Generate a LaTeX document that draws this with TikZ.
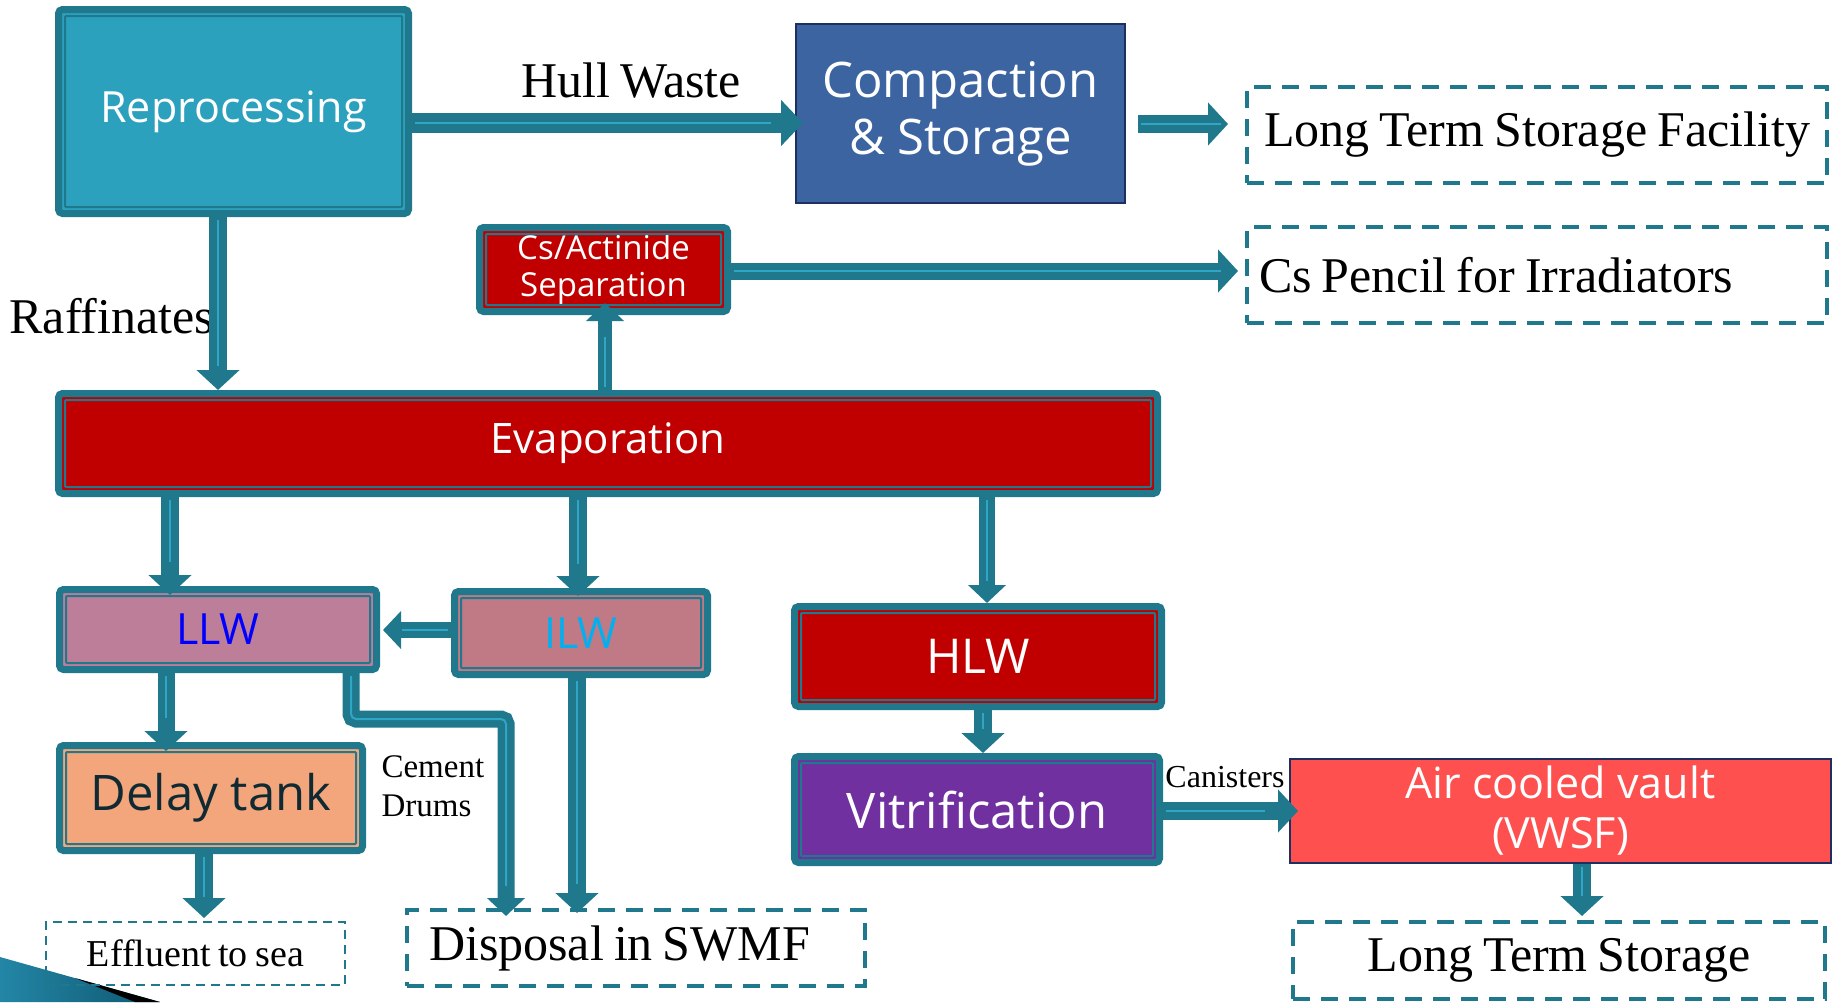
\documentclass[tikz,border=0pt]{standalone}
\usepackage{fontspec}
\setmainfont{Liberation Serif}[WordSpace=0.8]
\newfontfamily\boxfont{Open Sans}
\usetikzlibrary{arrows.meta}

\definecolor{tealdark}{HTML}{1F788C}
\definecolor{teallight}{HTML}{2FA6C6}
\definecolor{repfill}{HTML}{2CA1BE}
\definecolor{compfill}{HTML}{3B64A0}
\definecolor{navyline}{HTML}{1F2F60}
\definecolor{wastered}{HTML}{C00000}
\definecolor{llwfill}{HTML}{BD7E9A}
\definecolor{ilwfill}{HTML}{BF7A86}
\definecolor{delayfill}{HTML}{F3A57B}
\definecolor{vitfill}{HTML}{7030A0}
\definecolor{vaultfill}{HTML}{FF5050}
\definecolor{llwtext}{HTML}{0000FF}
\definecolor{ilwtext}{HTML}{00B0F0}
\definecolor{delaytext}{HTML}{0F2A33}
\definecolor{wedgelight}{HTML}{2386A6}
\definecolor{wedgedark}{HTML}{0E5670}

\newcommand{\fs}[2]{\fontsize{#1}{#2}\selectfont}

\begin{document}
\begin{tikzpicture}[x=1pt,y=-1pt,
  tbox/.style={draw=tealdark, line width=7pt, rounded corners=4pt, inner sep=0pt,
               text=white, align=center},
  pbox/.style={draw=navyline, line width=2pt, inner sep=0pt, text=white, align=center},
  dbox/.style={draw=tealdark, line width=4pt, dash pattern=on 17pt off 11pt,
               inner sep=0pt, text=black, align=center},
  innerline/.style={draw=tealdark, line width=2pt, rounded corners=1pt},
  flow/.style={draw=tealdark, line width=18pt, -{Triangle[width=42pt,length=20pt]},
               postaction={draw=teallight, line width=2pt, -, shorten <=3pt, shorten >=24pt}},
  slimflow/.style={draw=tealdark, line width=15pt, -{Triangle[width=37pt,length=18pt]},
               postaction={draw=teallight, line width=2pt, -, shorten <=3pt, shorten >=22pt}}
]
\useasboundingbox (0,0) rectangle (1841,1002);

% corner wedge of the slide
\shade[left color=wedgelight, right color=wedgedark] (0,957) -- (160,1002) -- (0,1002) -- cycle;
\fill[black] (75,978) -- (160,1002) -- (135,1002) -- cycle;

% process boxes
\node[tbox, fill=repfill, minimum width=350pt, minimum height=204pt,
      font=\boxfont\fs{43}{50}] (rep) at (233.5,111.5) {Reprocessing};
\node[pbox, fill=compfill, minimum width=329pt, minimum height=179pt,
      font=\boxfont\fs{49}{57}] (comp) at (960.5,113.5) {Compaction\\\& Storage};
\node[tbox, fill=wastered, minimum width=248pt, minimum height=84pt,
      font=\boxfont\fs{33}{37}] (csact) at (603.5,269.5) {Cs/Actinide\\Separation};
\node[tbox, fill=wastered, minimum width=1099pt, minimum height=100pt,
      font=\boxfont\fs{42}{48}] (evap) at (608,443.5) {Evaporation};
\node[tbox, fill=llwfill, text=llwtext, minimum width=317pt, minimum height=80pt,
      font=\boxfont\fs{43}{48}] (llw) at (218,629.5) {LLW};
\node[tbox, fill=ilwfill, text=ilwtext, minimum width=253pt, minimum height=83pt,
      font=\boxfont\fs{43}{48}] (ilw) at (581,633) {ILW};
\node[tbox, fill=wastered, minimum width=367pt, minimum height=100pt,
      font=\boxfont\fs{48}{54}] (hlw) at (978,656.5) {HLW};
\node[tbox, fill=vitfill, minimum width=365pt, minimum height=106pt,
      font=\boxfont\fs{49}{56}] (vit) at (977,809.5) {Vitrification};
\node[tbox, fill=delayfill, text=delaytext, minimum width=303pt, minimum height=105pt,
      font=\boxfont\fs{49}{56}] (delay) at (211,798) {Delay tank};
\node[pbox, fill=vaultfill, minimum width=541pt, minimum height=104pt,
      font=\boxfont\fs{43}{50}] (vault) at (1560.5,811) {Air cooled vault\\(VWSF)};

% inner frame lines of the teal boxes
\foreach \n in {rep,csact,evap,llw,ilw,hlw,vit,delay}
  \draw[innerline] ([shift={(10pt,-10pt)}]\n.north west) rectangle ([shift={(-10pt,10pt)}]\n.south east);

% destinations (dashed)
\node[dbox, minimum width=580pt, minimum height=96pt,
      font=\fs{50}{56}] (ltsf) at (1537,135) {Long Term Storage Facility};
\node[dbox, minimum width=580pt, minimum height=96pt, text width=556pt, align=flush left,
      font=\fs{50}{56}] (cspen) at (1537,275) {Cs Pencil for Irradiators};
\node[dbox, line width=2pt, dash pattern=on 9pt off 6pt, minimum width=299pt,
      minimum height=63pt, font=\fs{38}{44}] (eff) at (195.5,953.5) {Effluent to sea};
\node[dbox, minimum width=458pt, minimum height=76pt, text width=414pt, align=flush left,
      font=\fs{50}{56}] (swmf) at (636,948) {Disposal in SWMF};
\node[dbox, minimum width=532pt, minimum height=77pt,
      font=\fs{50}{56}] (lts) at (1559,960.5) {Long Term Storage};

% labels
\node[anchor=base, font=\fs{50}{56}] (hull) at (631,97) {Hull Waste};
\node[anchor=base west, font=\fs{50}{56}] (raff) at (6,333) {Raffinates};
\node[anchor=base west, align=left, font=\fs{33}{39}] (drums) at (378,816) {Cement\\Drums};
\node[anchor=base, font=\fs{32}{36}] (can) at (1225,787) {Canisters};

% flows
\coordinate (compout) at ([xshift=12pt]comp.east);
\draw[flow] (218,0 |- rep.south) -- (218,0 |- evap.north);
\draw[flow, -{Triangle[width=45pt,length=22pt]}, line width=20pt, shorten >=-8pt]
  (rep.east |- 0,123) -- (comp.west |- 0,123);
\draw[flow, shorten >=17pt] (compout |- 0,124) -- (ltsf.west |- 0,124);
\draw[flow, line width=17pt, shorten >=7pt] (csact.east |- 0,271) -- (cspen.west |- 0,271);
\draw[slimflow, line width=14pt, shorten >=-12pt] (605,0 |- evap.north) -- (605,0 |- csact.south);
\draw[flow, shorten >=-9pt] (170,0 |- evap.south) -- (170,0 |- llw.north);
\draw[flow, shorten >=-8pt] (578,0 |- evap.south) -- (578,0 |- ilw.north);
\draw[slimflow, line width=16pt] (987,0 |- evap.south) -- (987,0 |- hlw.north);
\draw[slimflow, line width=16pt, shorten >=3pt] (ilw.west |- 0,630) -- (llw.east |- 0,630);
\draw[flow, line width=17pt, shorten >=-9pt] (166,0 |- llw.south) -- (166,0 |- delay.north);
\draw[flow, shorten >=3pt] (204,0 |- delay.south) -- (204,0 |- eff.north);
\coordinate (drumbend) at (506,719);
\draw[slimflow, line width=17pt, rounded corners=5pt, shorten >=-8pt]
  (351,0 |- llw.south) |- (drumbend) -- (506,0 |- swmf.north);
\draw[flow, shorten >=-5pt] (577,0 |- ilw.south) -- (577,0 |- swmf.north);
\draw[flow] (983,0 |- hlw.south) -- (983,0 |- vit.north);
\draw[flow, shorten >=-9pt] (vit.east |- 0,811) -- (vault.west |- 0,811);
\draw[flow, shorten >=4pt] (1582,0 |- vault.south) -- (1582,0 |- lts.north);
\end{tikzpicture}
\end{document}
